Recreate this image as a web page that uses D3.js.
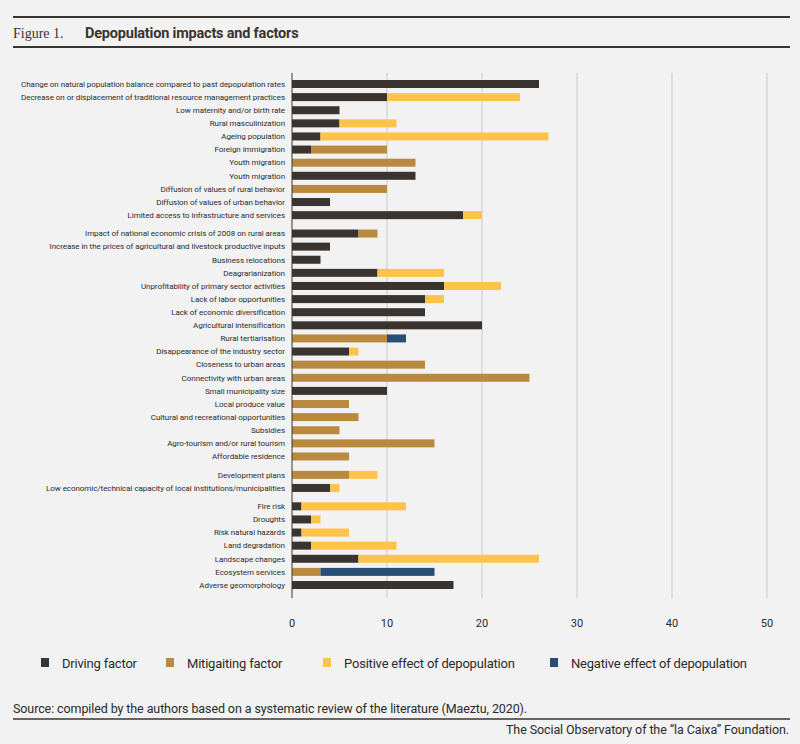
<!DOCTYPE html>
<html>
<head>
<meta charset="utf-8">
<script src="https://cdn.jsdelivr.net/npm/d3@7"></script>
<style>
  body { margin: 0; background: #f2f2f2; }
  svg { display: block; }
</style>
</head>
<body>
<div id="chart"></div>
<script>
// Chart data
var categories = [
  "Change on natural population balance compared to past depopulation rates",
  "Decrease on or displacement of traditional resource management practices",
  "Low maternity and/or birth rate",
  "Rural masculinization",
  "Ageing population",
  "Foreign  immigration",
  "Youth migration",
  "Youth migration",
  "Diffusion of values of rural behavior",
  "Diffusion of values of urban behavior",
  "Limited access to infrastructure and services",
  "Impact of national economic crisis of 2008 on rural areas",
  "Increase in the prices of agricultural and livestock productive inputs",
  "Business relocations",
  "Deagrarianization",
  "Unprofitability of primary sector activities",
  "Lack of labor opportunities",
  "Lack of economic diversification",
  "Agricultural intensification",
  "Rural tertiarisation",
  "Disappearance of the industry sector",
  "Closeness to urban areas",
  "Connectivity  with urban areas",
  "Small municipality size",
  "Local produce value",
  "Cultural and recreational opportunities",
  "Subsidies",
  "Agro-tourism and/or rural tourism",
  "Affordable residence",
  "Development plans",
  "Low economic/technical capacity of local institutions/municipalities",
  "Fire risk",
  "Droughts",
  "Risk natural hazards",
  "Land degradation",
  "Landscape changes",
  "Ecosystem services",
  "Adverse geomorphology"
];
// number of categories in each visual group (small gap between groups)
var groupSizes = [11, 18, 2, 7];

var driving    = [26,10,5,5,3,2,0,13,0,4,18, 7,4,3,9,16,14,14,20,0,6,0,0,10,0,0,0,0,0, 0,4, 1,2,1,2,7,0,17];
var mitigating = [0,0,0,0,0,8,13,0,10,0,0, 2,0,0,0,0,0,0,0,10,0,14,25,0,6,7,5,15,6, 6,0, 0,0,0,0,0,3,0];
var positive   = [0,14,0,6,24,0,0,0,0,0,2, 0,0,0,7,6,2,0,0,0,1,0,0,0,0,0,0,0,0, 3,1, 11,1,5,9,19,0,0];
var negative   = [0,0,0,0,0,0,0,0,0,0,0, 0,0,0,0,0,0,0,0,2,0,0,0,0,0,0,0,0,0, 0,0, 0,0,0,0,0,12,0];

var seriesNames = ["Driving factor", "Mitigaiting factor", "Positive effect of depopulation", "Negative effect of depopulation"];
var seriesColors = ["#3a3431", "#b8893e", "#ffc349", "#284e73"];
var xTicks = [0, 10, 20, 30, 40, 50];

var W = 800, H = 744;
var svg = d3.select("#chart").append("svg").attr("width", W).attr("height", H);
var font = "'Roboto', sans-serif";

// header
svg.append("line").attr("x1", 13).attr("x2", 790).attr("y1", 17).attr("y2", 17)
  .attr("stroke", "#3a3431").attr("stroke-width", 2);
svg.append("line").attr("x1", 13).attr("x2", 790).attr("y1", 47).attr("y2", 47)
  .attr("stroke", "#3a3431").attr("stroke-width", 2);
svg.append("text").attr("x", 13).attr("y", 38).attr("font-family", "'Liberation Serif', serif")
  .attr("font-size", 14).attr("fill", "#3a3431").text("Figure 1.");
svg.append("text").attr("x", 85).attr("y", 38).attr("font-family", font)
  .attr("font-size", 14.5).attr("font-weight", "bold").attr("fill", "#3a3431")
  .attr("letter-spacing", -0.2)
  .text("Depopulation impacts and factors");

// row positions including group gaps
var rows = [];
var g = 0, k = 0;
categories.forEach(function (c, i) {
  if (k >= groupSizes[g]) { g++; k = 0; }
  rows.push(i + g * 0.4);
  k++;
});

var x = d3.scaleLinear().domain([0, 50]).range([292, 767]);
var y = d3.scaleLinear().domain([0, rows[rows.length - 1]]).range([84, 585]);
var barH = 8;

// grid
svg.append("g").selectAll("line").data(xTicks.slice(1)).join("line")
  .attr("x1", function (d) { return x(d); }).attr("x2", function (d) { return x(d); })
  .attr("y1", 73).attr("y2", 598).attr("stroke", "#c9c9c9").attr("stroke-width", 1);

var table = categories.map(function (c, i) {
  return { i: i, d0: driving[i], d1: mitigating[i], d2: positive[i], d3: negative[i] };
});
var stack = d3.stack().keys(["d0", "d1", "d2", "d3"])(table);

svg.append("g").selectAll("g").data(stack).join("g")
  .attr("fill", function (s, i) { return seriesColors[i]; })
  .selectAll("rect").data(function (s) { return s; }).join("rect")
  .attr("x", function (d) { return x(d[0]); })
  .attr("width", function (d) { return x(d[1]) - x(d[0]); })
  .attr("y", function (d) { return y(rows[d.data.i]) - barH / 2; })
  .attr("height", barH);

// axis line
svg.append("line").attr("x1", x(0)).attr("x2", x(0)).attr("y1", 73).attr("y2", 598)
  .attr("stroke", "#3a3431").attr("stroke-width", 1);

// category labels
svg.append("g").selectAll("text").data(categories).join("text")
  .attr("x", 285).attr("y", function (d, i) { return y(rows[i]); })
  .attr("dy", "0.35em").attr("text-anchor", "end")
  .attr("font-family", font).attr("font-size", 8).attr("letter-spacing", -0.05)
  .attr("fill", "#2b2b2b")
  .text(function (d) { return d; });

// x tick labels
svg.append("g").selectAll("text").data(xTicks).join("text")
  .attr("x", function (d) { return x(d); }).attr("y", 627).attr("text-anchor", "middle")
  .attr("font-family", font).attr("font-size", 11).attr("fill", "#2b2b2b")
  .text(function (d) { return d; });

// legend
var legendX = [41, 166, 323, 550];
var lg = svg.append("g").selectAll("g").data(seriesNames).join("g")
  .attr("transform", function (d, i) { return "translate(" + legendX[i] + ",658)"; });
lg.append("rect").attr("width", 8).attr("height", 9)
  .attr("fill", function (d, i) { return seriesColors[i]; });
lg.append("text").attr("x", 21).attr("y", 5).attr("dy", "0.35em")
  .attr("font-family", font).attr("font-size", 13).attr("letter-spacing", -0.2).attr("fill", "#2b2b2b")
  .text(function (d) { return d; });

// footer
svg.append("text").attr("x", 13).attr("y", 713).attr("font-family", font)
  .attr("font-size", 12.5).attr("letter-spacing", -0.1).attr("fill", "#2b2b2b")
  .text("Source: compiled by the authors based on a systematic review of the literature (Maeztu, 2020).");
svg.append("line").attr("x1", 13).attr("x2", 790).attr("y1", 719).attr("y2", 719)
  .attr("stroke", "#3a3431").attr("stroke-width", 1.5);
svg.append("text").attr("x", 789).attr("y", 734).attr("text-anchor", "end").attr("font-family", font)
  .attr("font-size", 12.5).attr("letter-spacing", -0.1).attr("fill", "#2b2b2b")
  .text("The Social Observatory of the \u201cla Caixa\u201d Foundation.");
</script>
</body>
</html>
